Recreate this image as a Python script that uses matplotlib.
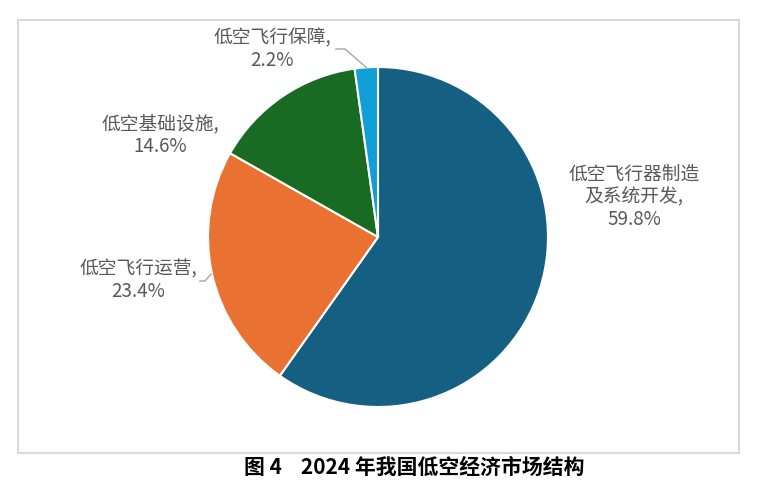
import numpy as np
import matplotlib
matplotlib.use("Agg")
import matplotlib.pyplot as plt
from matplotlib.patches import Rectangle

plt.rcParams['font.family'] = ['Noto Sans CJK SC', 'DejaVu Sans']

# data
categories = ['低空飞行器制造\n及系统开发', '低空飞行运营', '低空基础设施', '低空飞行保障']
shares = [59.8, 23.4, 14.6, 2.2]
colors = ['#156082', '#E97132', '#196B24', '#0F9ED5']
caption = '图 4    2024 年我国低空经济市场结构'

W, H = 766, 486
fig = plt.figure(figsize=(W / 100, H / 100), dpi=100)
ax = fig.add_axes([0, 0, 1, 1])

# pie in pixel coords (y flipped: data y = H - pixel y)
cx, cy, r = 378, H - 237, 170
wedges, _ = ax.pie(shares, colors=colors, startangle=90, counterclock=False,
                   radius=r, center=(cx, cy),
                   wedgeprops=dict(edgecolor='white', linewidth=1.5))

ax.set_xlim(0, W)
ax.set_ylim(0, H)
ax.set_aspect('equal')
ax.axis('off')

# label positions (pixel coords of text centre)
label_pos = [(634, 197), (138, 280), (160, 135), (272, 49)]
txt_color = '#595959'
for i, (name, val) in enumerate(zip(categories, shares)):
    x, y = label_pos[i]
    ax.text(x, H - y, f'{name},\n{val}%', ha='center', va='center',
            fontsize=13.5, color=txt_color, linespacing=1.1,
            fontweight='light')

# leader lines for the small / left slices
line_color = '#A6A6A6'
def edge_point(w):
    ang = np.deg2rad((w.theta1 + w.theta2) / 2)
    return cx + r * np.cos(ang), cy + r * np.sin(ang)

ex, ey = edge_point(wedges[3])
ax.plot([336, 345, ex], [H - 49, H - 49, ey], color=line_color, lw=1)
ex, ey = edge_point(wedges[1])
ax.plot([200, 205, ex - 1], [H - 281, H - 281, ey], color=line_color, lw=1)

# chart border
ax.add_patch(Rectangle((18, H - 453), 721, 433, fill=False,
                       edgecolor='#D9D9D9', lw=1.5))

fig.text(414 / W, 1 - 467 / H, caption, ha='center', va='center',
         fontsize=15, fontweight='bold', color='black')

fig.savefig('out.png', dpi=100)
